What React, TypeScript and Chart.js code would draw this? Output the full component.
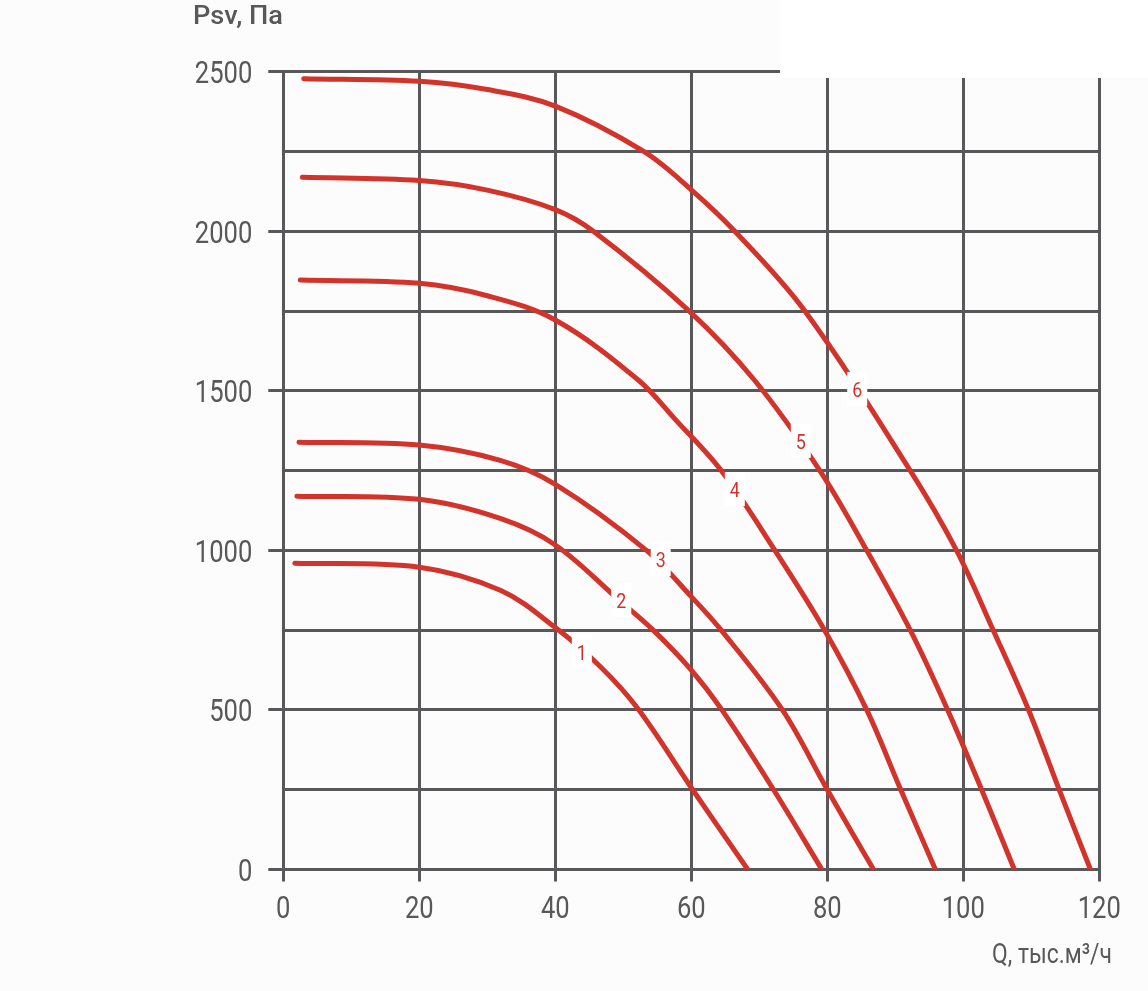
import React, { useEffect, useRef } from 'react';
import { Chart, registerables } from 'chart.js';

Chart.register(...registerables);

// Curve data: Q (thousand m³/h) and Psv (Pa)
const q1 = [1.7, 20, 32, 40, 46.6, 52.1, 60.2, 68.3];
const p1 = [960, 947, 874, 758, 636, 505, 250, 0];

const q2 = [2.0, 20, 31.9, 40, 49.5, 54.4, 60, 64.5, 72.1, 79.2];
const p2 = [1170, 1160, 1100, 1017, 842, 750, 625, 500, 250, 0];

const q3 = [2.3, 20, 31.9, 40, 53.4, 60, 64.4, 73.4, 80, 86.8];
const p3 = [1339, 1330, 1282, 1207, 1000, 855, 750, 500, 250, 0];

const q4 = [2.5, 20, 30, 40, 52.2, 57.7, 64.4, 72.3, 79.6, 85.8, 90.8, 95.9];
const p4 = [1847, 1837, 1798, 1722, 1534, 1409, 1250, 1000, 750, 500, 250, 0];

const q5 = [2.8, 20, 30, 40, 45.6, 59.7, 69.3, 78.9, 85.8, 92.2, 97.7, 102.7, 107.5];
const p5 = [2169, 2159, 2129, 2068, 2000, 1750, 1533, 1250, 1000, 750, 500, 250, 0];

const q6 = [3.0, 20, 30, 40, 53.0, 60, 66.4, 76.7, 92.2, 99.0, 104.4, 109.6, 114.1, 118.7];
const p6 = [2478, 2470, 2444, 2392, 2250, 2130, 2000, 1750, 1250, 1000, 750, 500, 250, 0];

const curveQ = [q1, q2, q3, q4, q5, q6];
const curveP = [p1, p2, p3, p4, p5, p6];

// Curve number labels
const labelNames = ['1', '2', '3', '4', '5', '6'];
const labelQ = [43.9, 49.7, 55.5, 66.4, 76.1, 84.4];
const labelP = [683, 845, 973, 1192, 1343, 1506];

// Axis settings
const xMin = 0;
const xMax = 120;
const xStep = 20;
const yMin = 0;
const yMax = 2500;
const yStep = 250;
const yLabelStep = 500;

const yTitle = 'Psv, Па';
const xTitle = 'Q, тыс.м³/ч';

const RED = '#d2332a';
const GRID = '#58585a';
const TEXT = '#58585a';
const FONT = "Roboto, 'DejaVu Sans Condensed', sans-serif";
const SQUEEZE = 0.8;

function drawNarrow(
  ctx: CanvasRenderingContext2D,
  text: string,
  x: number,
  y: number,
  font: string,
  align: 'left' | 'right' | 'center',
  sx: number,
) {
  ctx.save();
  ctx.font = font;
  ctx.textAlign = align;
  ctx.textBaseline = 'alphabetic';
  ctx.translate(x, y);
  ctx.scale(sx, 1);
  ctx.fillText(text, 0, 0);
  ctx.restore();
}

export default function App() {
  const ref = useRef<HTMLCanvasElement | null>(null);

  useEffect(() => {
    if (!ref.current) return;

    const overlay = {
      id: 'overlay',
      beforeDraw(chart: any) {
        const ctx = chart.ctx;
        ctx.save();
        ctx.fillStyle = '#fcfcfc';
        ctx.fillRect(0, 0, chart.width, chart.height);
        ctx.restore();
      },
      afterDraw(chart: any) {
        const ctx: CanvasRenderingContext2D = chart.ctx;
        const xs = chart.scales.x;
        const ys = chart.scales.y;
        ctx.save();
        // curve number labels
        labelNames.forEach((t, i) => {
          const px = xs.getPixelForValue(labelQ[i]);
          const py = ys.getPixelForValue(labelP[i]);
          ctx.fillStyle = '#ffffff';
          ctx.fillRect(px - 10, py - 17, 20, 34);
          ctx.fillStyle = RED;
          drawNarrow(ctx, t, px, py + 8, `21px ${FONT}`, 'center', 0.85);
        });
        // white block in the top right corner
        ctx.fillStyle = '#ffffff';
        ctx.fillRect(780, 0, chart.width - 780, 78);
        // tick labels
        ctx.fillStyle = TEXT;
        const tickFont = `32px ${FONT}`;
        ys.ticks.forEach((t: any) => {
          if (t.value % yLabelStep !== 0) return;
          const py = ys.getPixelForValue(t.value);
          drawNarrow(ctx, String(t.value), ys.right - 31, py + 11.4, tickFont, 'right', SQUEEZE);
        });
        xs.ticks.forEach((t: any) => {
          const px = xs.getPixelForValue(t.value);
          drawNarrow(ctx, String(t.value), px, 918, tickFont, 'center', SQUEEZE);
        });
        // axis titles
        const fy = `500 26px ${FONT}`;
        ctx.font = fy;
        const wy = ctx.measureText(yTitle).width;
        drawNarrow(ctx, yTitle, 193, 23.5, fy, 'left', 90 / wy);
        const fx = `28px ${FONT}`;
        ctx.font = fx;
        const wx = ctx.measureText(xTitle).width;
        drawNarrow(ctx, xTitle, 1112, 963, fx, 'right', 120 / wx);
        ctx.restore();
      },
    };

    const datasets = curveQ.map((qs, i) => ({
      label: labelNames[i],
      data: qs.map((q, j) => ({ x: q, y: curveP[i][j] })),
      borderColor: RED,
      borderWidth: 5,
      borderCapStyle: 'round' as const,
      borderJoinStyle: 'round' as const,
      pointRadius: 0,
      fill: false,
      tension: 0.35,
    }));

    const chart = new Chart(ref.current, {
      type: 'line',
      data: { datasets },
      plugins: [overlay],
      options: {
        animation: false,
        responsive: false,
        devicePixelRatio: 1,
        layout: { padding: { top: 71.7, right: 48.7, left: 0, bottom: 0 } },
        plugins: { legend: { display: false }, tooltip: { enabled: false } },
        scales: {
          x: {
            type: 'linear',
            min: xMin,
            max: xMax,
            afterFit: (s: any) => { s.height = 991 - 869.5; },
            ticks: { stepSize: xStep, display: false },
            grid: { color: GRID, lineWidth: 3, tickLength: 12, tickColor: GRID },
            border: { color: GRID, width: 3 },
          },
          y: {
            type: 'linear',
            min: yMin,
            max: yMax,
            afterFit: (s: any) => { s.width = 283.3; },
            ticks: { stepSize: yStep, display: false },
            grid: {
              color: GRID,
              lineWidth: 3,
              tickLength: 15,
              tickColor: (c: any) => (c.tick && c.tick.value % yLabelStep === 0 ? GRID : 'rgba(0,0,0,0)'),
            },
            border: { color: GRID, width: 3 },
          },
        },
      },
    });

    return () => chart.destroy();
  }, []);

  return (
    <div style={{ position: 'absolute', left: 0, top: 0, width: 1148, height: 991 }}>
      <canvas ref={ref} width={1148} height={991} style={{ display: 'block' }} />
    </div>
  );
}
